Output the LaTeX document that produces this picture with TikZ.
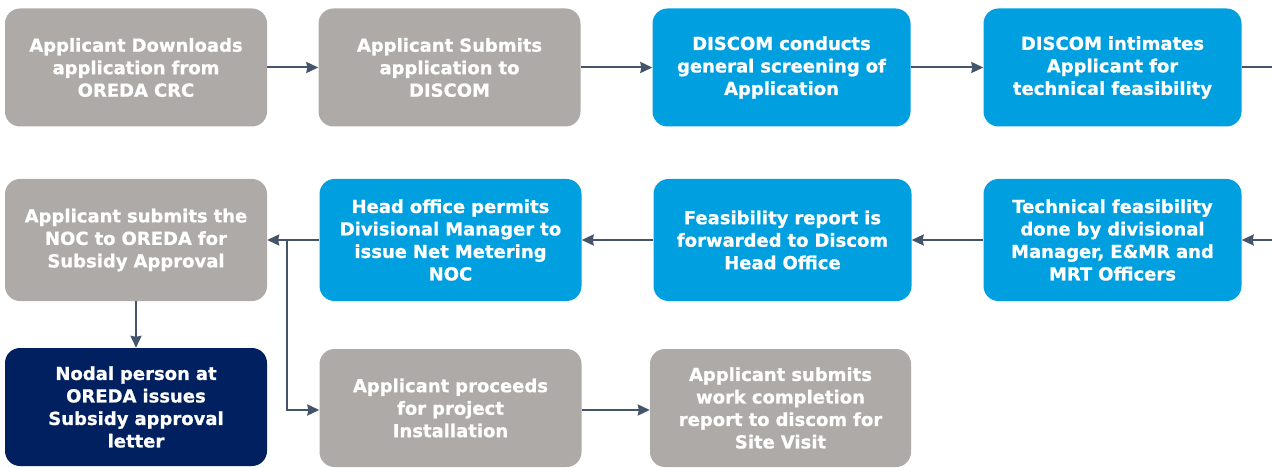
\documentclass[tikz,border=0pt]{standalone}
\usepackage{fontspec}
\setmainfont{DejaVu Sans}[BoldFeatures={FakeBold=0.8}]
\usetikzlibrary{arrows.meta}
\definecolor{bxgray}{HTML}{ADAAA8}
\definecolor{bxblue}{HTML}{009FE0}
\definecolor{bxnavy}{HTML}{00205F}
\definecolor{conn}{HTML}{44546A}
\begin{document}
\begin{tikzpicture}[x=1pt,y=-1pt,
  bx/.style={rounded corners=15pt,draw=none,minimum width=262pt,minimum height=118pt,
    text width=255pt,align=center,text=white,font=\fontsize{18}{22.5}\selectfont\bfseries,inner sep=0pt},
  gbx/.style={bx,fill=bxgray},
  ubx/.style={bx,fill=bxblue},
  nbx/.style={bx,fill=bxnavy},
  arr/.style={draw=conn,line width=2pt,-{Stealth[length=12pt,width=11pt,inset=1pt]}},
  ln/.style={draw=conn,line width=2pt}]
\useasboundingbox (0,0) rectangle (1272,468);
\node[gbx] (b1) at (136,67.5) {Applicant Downloads\\application from\\OREDA CRC};
\node[gbx] (b2) at (449.5,67.5) {Applicant Submits\\application to\\DISCOM};
\node[ubx,minimum width=258pt] (b3) at (781.5,67.5) {DISCOM conducts\\general screening of\\Application};
\node[ubx,minimum width=258pt] (b4) at (1112.5,67.5) {DISCOM intimates\\Applicant for\\technical feasibility};
\node[gbx,minimum height=122pt] (b5) at (136,240) {Applicant submits the\\NOC to OREDA for\\Subsidy Approval};
\node[ubx,minimum height=122pt] (b6) at (450.5,240) {Head office permits\\Divisional Manager to\\issue Net Metering\\NOC};
\node[ubx,minimum width=258pt,minimum height=122pt] (b7) at (782.5,240) {Feasibility report is\\forwarded to Discom\\Head Office};
\node[ubx,minimum width=258pt,minimum height=122pt] (b8) at (1112.5,240) {Technical feasibility\\done by divisional\\Manager, E\&MR and\\MRT Officers};
\node[nbx] (b9) at (136,407) {Nodal person at\\OREDA issues\\Subsidy approval\\letter};
\node[gbx] (b10) at (450.5,408) {Applicant proceeds\\for project\\Installation};
\node[gbx,minimum width=261pt] (b11) at (780.5,408) {Applicant submits\\work completion\\report to discom for\\Site Visit};
\coordinate (e1) at (1272,67.5);
\coordinate (e2) at (1272,240);
\coordinate (j) at (287,240);
\draw[arr] (b1) -- (b2);
\draw[arr] (b2) -- (b3);
\draw[arr] (b3) -- (b4);
\draw[ln] (b4) -- (e1);
\draw[arr] (e2) -- (b8);
\draw[arr] (b8) -- (b7);
\draw[arr] (b7) -- (b6);
\draw[arr] (b6) -- (b5);
\draw[arr] (b5) -- (b9);
\draw[arr] (j) |- (b10.west |- 0,410);
\draw[arr] (b10.east |- 0,410) -- (b11.west |- 0,410);
\end{tikzpicture}
\end{document}
